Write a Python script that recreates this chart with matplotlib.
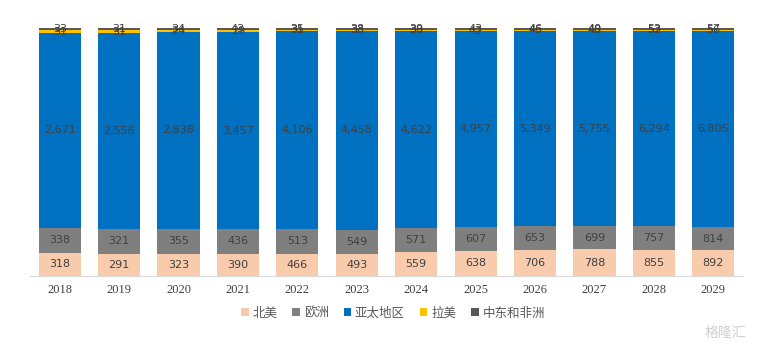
import matplotlib
matplotlib.use("Agg")
import matplotlib.pyplot as plt
import numpy as np

years = ["2018", "2019", "2020", "2021", "2022", "2023", "2024", "2025", "2026", "2027", "2028", "2029"]
north_america = [318, 291, 323, 390, 466, 493, 559, 638, 706, 788, 855, 892]
europe = [338, 321, 355, 436, 513, 549, 571, 607, 653, 699, 757, 814]
asia_pacific = [2671, 2556, 2838, 3457, 4106, 4458, 4622, 4957, 5349, 5755, 6294, 6805]
latin_america = [31, 31, 24, 29, 31, 33, 38, 42, 45, 48, 52, 56]
mea = [33, 31, 34, 43, 35, 38, 39, 43, 46, 49, 53, 57]

series_names = ["北美", "欧洲", "亚太地区", "拉美", "中东和非洲"]
series = [north_america, europe, asia_pacific, latin_america, mea]
colors = ["#F8CBAD", "#7F7F7F", "#0070C0", "#FFC000", "#595959"]

plt.rcParams['font.family'] = ['Noto Sans CJK SC', 'DejaVu Sans']

fig = plt.figure(figsize=(7.6, 3.51), dpi=100)
ax = fig.add_axes([30/760, 75/351, 713/760, 248/351])

data = np.array(series, dtype=float)
totals = data.sum(axis=0)
frac = data / totals
x = np.arange(len(years))
bottom = np.zeros(len(years))
for name, vals, f, c in zip(series_names, series, frac, colors):
    ax.bar(x, f, width=0.71, bottom=bottom, color=c, label=name, edgecolor='none')
    for xi, b, fi, v in zip(x, bottom, f, vals):
        ax.text(xi, b + fi / 2, f"{v:,}", ha='center', va='center',
                fontsize=8, color='#404040', family=['DejaVu Sans'])
    bottom += f

ax.set_xlim(-0.5, len(years) - 0.5)
ax.set_ylim(0, 1)
ax.set_yticks([])
ax.set_xticks(x)
ax.set_xticklabels(years, fontsize=9, color='#404040', family=['Liberation Serif'])
ax.tick_params(axis='x', length=0, pad=6)
for s in ['top', 'right', 'left']:
    ax.spines[s].set_visible(False)
ax.spines['bottom'].set_color('#D9D9D9')

leg = fig.legend(loc='center', bbox_to_anchor=(393/760, 1 - 313/351), ncol=5, frameon=False,
                 fontsize=9, handlelength=0.6, handleheight=0.6, handletextpad=0.3,
                 columnspacing=1.2, labelcolor='#595959')

fig.text(725/760, 1 - 333/351, "格隆汇", fontsize=10, color='#D0D0D0', ha='center', va='center')

fig.savefig("out.png", dpi=100)
